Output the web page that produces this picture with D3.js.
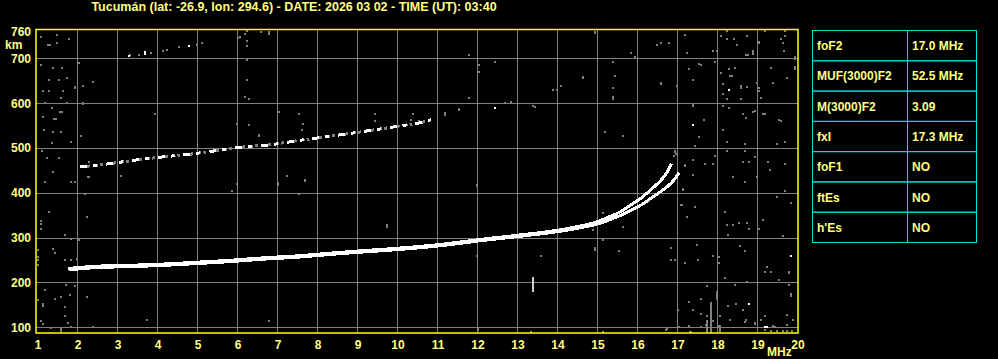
<!DOCTYPE html>
<html>
<head>
<meta charset="utf-8">
<script src="https://cdn.jsdelivr.net/npm/d3@7/dist/d3.min.js"></script>
<style>
  body { margin: 0; background: #000; }
  svg { display: block; }
  text { font-family: "Liberation Sans", Arial, sans-serif; font-weight: bold; fill: #ffff80; }
</style>
</head>
<body>
<svg id="ionogram" width="998" height="359"></svg>
<script>
'use strict';

var titleText = 'Tucumán (lat: -26.9, lon: 294.6) - DATE: 2026 03 02 - TIME (UT): 03:40';
var freqTicks = [1, 2, 3, 4, 5, 6, 7, 8, 9, 10, 11, 12, 13, 14, 15, 16, 17, 18, 19, 20];
var heightTicks = [100, 200, 300, 400, 500, 600, 700, 760];
var gridFreqs = [2, 3, 4, 5, 6, 7, 8, 9, 10, 11, 12, 13, 14, 15, 16, 17, 18, 19];
var gridHeights = [100, 200, 300, 400, 500, 600, 700];

var tableLabels = ['foF2', 'MUF(3000)F2', 'M(3000)F2', 'fxI', 'foF1', 'ftEs', "h'Es"];
var tableValues = ['17.0 MHz', '52.5 MHz', '3.09', '17.3 MHz', 'NO', 'NO', 'NO'];

// [MHz, km]
var oTrace = [[1.78, 231], [2.5, 236], [3.3, 238], [4.2, 241], [5.0, 245], [5.8, 249], [6.7, 255],
  [7.5, 259], [8.3, 265], [9.2, 271], [10.0, 276], [10.8, 282], [11.5, 289], [12.1, 296], [12.7, 302],
  [13.3, 308], [14.0, 316], [14.6, 326], [15.0, 335], [15.3, 346], [15.6, 358], [15.85, 373],
  [16.1, 388], [16.35, 407], [16.6, 428], [16.75, 445], [16.86, 465]];
var xTrace = [[1.8, 228], [2.5, 233], [3.3, 235], [4.2, 238], [5.0, 242], [5.8, 246], [6.7, 252],
  [7.5, 256], [8.3, 262], [9.2, 268], [10.0, 273], [10.8, 279], [11.5, 286], [12.1, 293], [12.7, 299],
  [13.3, 305], [14.0, 313], [14.6, 322], [15.0, 330], [15.3, 339], [15.6, 350], [15.9, 363],
  [16.15, 375], [16.35, 388], [16.55, 400], [16.75, 413], [16.95, 431], [17.05, 445]];
var secondHop = [[2.08, 458], [2.58, 462], [3.4, 472], [4.16, 480], [4.74, 485], [5.49, 494],
  [6.16, 502], [6.83, 507], [7.5, 516], [8.0, 522], [8.8, 532], [9.64, 543], [10.14, 550],
  [10.48, 554], [10.85, 563]];

var whiteDots = [[3.31, 704], [3.69, 710], [3.69, 714], [4.81, 728], [18.29, 630], [17.39, 550],
  [19.85, 258], [18.8, 152], [19.24, 100], [19.2, 100], [12.45, 589]];
var greyDots = [[3.33, 707], [3.54, 708], [3.85, 712], [4.14, 716], [4.24, 718], [4.54, 724],
  [5.0, 730], [5.13, 733],
  [1.09, 748], [1.49, 752], [1.27, 730], [1.33, 730], [1.49, 735], [1.8, 743], [1.09, 685], [1.41, 678],
  [1.62, 679], [1.31, 652], [1.56, 652], [1.74, 657], [2.05, 689], [1.95, 634], [2.14, 639], [2.39, 648],
  [1.14, 626], [1.3, 626], [1.64, 626], [1.6, 612], [1.2, 601], [1.76, 601], [2.14, 600], [1.38, 590],
  [1.57, 581], [1.62, 581], [1.14, 568], [1.42, 564], [1.48, 564], [1.18, 540], [1.41, 536], [1.6, 536],
  [2.09, 527], [1.37, 512], [1.84, 513], [1.13, 492], [1.24, 477], [1.55, 477], [1.39, 447], [2.09, 458],
  [2.3, 468], [1.2, 423], [1.84, 423], [1.95, 423], [2.28, 434], [2.2, 397], [1.3, 356], [2.24, 345],
  [1.09, 336], [1.09, 330], [1.09, 319], [1.7, 306], [1.84, 297], [2.05, 294], [1.03, 272], [1.39, 275],
  [1.45, 266], [1.03, 256], [1.03, 250], [1.7, 249], [1.84, 249], [1.99, 252], [1.03, 239], [1.2, 182],
  [1.73, 194], [1.95, 191], [1.45, 163], [1.6, 168], [1.83, 172], [1.03, 160], [1.14, 152], [1.14, 148],
  [1.7, 145], [1.7, 126], [1.09, 113], [1.14, 107], [1.35, 99], [1.6, 92], [1.6, 96], [1.78, 109],
  [1.84, 100], [2.24, 168], [2.41, 100],
  [6.03, 745], [6.08, 748], [6.2, 754], [6.25, 760], [6.25, 739], [6.25, 727], [6.6, 758], [6.79, 758],
  [6.79, 755], [6.25, 695], [6.25, 652], [6.2, 613], [6.3, 608], [7.04, 581], [7.56, 576], [7.64, 554],
  [7.62, 541], [6.31, 550], [5.99, 554], [6.54, 529], [6.54, 526], [9.46, 576], [9.46, 561], [10.39, 576],
  [3.96, 576], [2.1, 527], [2.39, 648], [2.14, 639], [2.15, 598], [1.96, 635], [2.04, 689],
  [14.95, 759], [14.95, 756], [11.79, 708], [12.04, 684], [12.04, 670], [12.45, 692], [11.79, 612],
  [11.54, 587], [11.54, 584], [12.85, 603], [12.7, 600], [13.89, 629], [13.99, 629], [14.1, 639],
  [14.64, 659], [14.64, 656], [15.39, 692], [15.45, 661], [15.39, 634], [15.39, 613], [15.39, 610],
  [15.85, 712], [15.95, 702], [16.49, 730], [16.6, 734], [16.81, 734], [16.6, 645], [16.6, 642],
  [16.99, 639], [17.2, 752], [17.24, 712], [17.31, 675], [17.54, 687], [17.6, 685], [17.39, 652],
  [17.89, 717], [17.99, 717], [17.95, 692], [18.1, 749], [18.25, 761], [18.25, 743], [18.43, 743],
  [18.5, 730], [18.75, 749], [18.89, 717], [18.89, 713], [18.89, 709], [18.73, 708], [18.78, 708],
  [19.04, 737], [19.04, 734], [19.21, 760], [19.6, 743], [19.64, 734], [19.68, 717], [19.69, 750],
  [19.69, 760], [19.96, 702], [19.96, 698], [19.96, 680], [19.96, 676], [18.09, 667], [18.29, 675],
  [18.33, 661], [18.38, 661], [18.45, 678], [18.14, 643], [18.14, 620], [18.25, 608], [18.6, 638],
  [18.6, 634], [18.75, 636], [18.6, 608], [18.99, 644], [19.04, 634], [19.04, 626], [19.1, 612],
  [19.35, 678], [19.39, 644], [19.74, 656], [18.14, 594], [18.29, 589], [18.64, 576], [18.73, 567],
  [18.89, 580], [18.94, 582], [19.14, 576], [19.2, 576], [19.56, 563], [19.6, 561], [17.39, 596],
  [17.39, 593], [17.68, 563], [18.14, 541], [17.54, 524], [15.21, 536], [15.64, 527], [13.4, 594],
  [13.44, 591], [11.2, 573], [11.2, 577], [10.55, 560], [10.35, 563],
  [16.95, 490], [16.93, 482], [17.45, 505], [17.95, 483], [18.24, 514], [18.7, 509], [19.49, 509],
  [19.7, 514], [17.2, 461], [17.39, 473], [17.7, 464], [17.89, 464], [18.24, 492], [18.7, 492],
  [18.95, 479], [18.66, 469], [18.79, 469], [19.28, 469], [19.7, 464], [17.39, 440], [17.14, 409],
  [17.14, 405], [18.41, 436], [18.7, 423], [18.99, 436], [19.33, 451], [19.7, 403], [19.49, 391],
  [19.85, 378], [17.09, 373], [17.45, 369], [17.24, 345], [18.2, 356], [18.26, 328], [18.39, 328],
  [18.55, 333], [18.74, 333], [18.79, 319], [18.28, 306], [19.04, 319], [19.16, 338], [19.64, 304],
  [16.84, 276], [17.49, 284], [16.95, 249], [17.2, 244], [17.53, 249], [17.89, 258], [18.05, 256],
  [18.05, 244], [18.58, 280], [18.7, 271], [19.24, 235], [19.35, 222], [19.2, 222], [19.8, 224],
  [19.8, 220], [18.2, 209], [18.45, 194], [18.74, 200], [19.56, 206], [19.8, 194], [19.85, 174],
  [19.85, 170], [17.74, 191], [17.6, 163], [17.3, 156], [17.03, 139], [17.4, 139], [17.59, 130],
  [17.74, 126], [17.89, 113], [18.08, 124], [18.28, 148], [18.47, 152], [18.66, 139], [18.72, 116],
  [18.95, 109], [19.09, 116], [19.2, 125], [19.45, 101], [19.36, 92], [19.5, 92], [19.64, 92],
  [19.75, 92], [19.88, 92], [19.91, 116], [19.74, 127], [17.33, 90], [16.73, 94],
  [11.99, 417], [11.99, 414], [15.14, 354], [14.91, 317], [15.14, 295], [15.64, 323], [14.95, 276],
  [14.95, 272], [15.55, 271], [13.59, 258], [11.99, 258], [16.84, 249], [17.2, 460], [17.12, 373],
  [16.95, 492], [16.98, 486],
  [7.24, 438], [7.03, 421], [7.03, 418], [5.99, 419], [5.88, 404], [7.55, 397], [7.7, 429], [7.7, 427],
  [3.09, 438], [2.3, 434], [2.2, 397], [2.24, 345], [9.74, 327], [9.74, 323],
  [3.74, 116], [6.79, 113], [12.03, 96], [12.03, 93], [13.35, 90], [15.14, 90], [16.74, 96],
  [17.05, 100], [17.3, 102], [17.34, 90], [17.6, 101], [17.73, 104], [18.03, 102], [18.33, 116],
  [18.7, 111], [18.95, 108], [19.41, 102], [19.2, 94], [19.75, 104]];
// [MHz, km from, km to]
var spikes = [[13.4, 178, 212]];
var greyBars = [[17.84, 88, 157], [17.76, 88, 104], [17.99, 160, 180], [17.74, 88, 117], [18.08, 88, 104]];

var svg = d3.select('#ionogram');

var x = d3.scaleLinear().domain([1, 20]).range([37, 797]);
var y = d3.scaleLinear().domain([87, 763]).range([333, 30]);

var frameLeft = 36, frameRight = 798, frameTop = 29.5, frameBottom = 333;

svg.append('rect')
  .attr('width', 998)
  .attr('height', 359)
  .attr('fill', '#000');

svg.append('text')
  .attr('x', 294)
  .attr('y', 11)
  .attr('text-anchor', 'middle')
  .style('font-size', '12.5px')
  .text(titleText);

// grid
var grid = svg.append('g')
  .attr('stroke', '#808080')
  .attr('stroke-width', 1)
  .attr('shape-rendering', 'crispEdges');

grid.selectAll('line.v')
  .data(gridFreqs)
  .enter()
  .append('line')
  .attr('class', 'v')
  .attr('x1', function(d) { return Math.round(x(d)) + 0.5; })
  .attr('x2', function(d) { return Math.round(x(d)) + 0.5; })
  .attr('y1', frameTop)
  .attr('y2', frameBottom);

grid.selectAll('line.h')
  .data(gridHeights)
  .enter()
  .append('line')
  .attr('class', 'h')
  .attr('x1', frameLeft)
  .attr('x2', frameRight)
  .attr('y1', function(d) { return Math.round(y(d)) + 0.5; })
  .attr('y2', function(d) { return Math.round(y(d)) + 0.5; });

// noise
function drawDots(data, colour) {
  svg.append('g')
    .attr('fill', colour)
    .attr('shape-rendering', 'crispEdges')
    .selectAll('rect')
    .data(data)
    .enter()
    .append('rect')
    .attr('x', function(d) { return Math.round(x(d[0])) - 1; })
    .attr('y', function(d) { return Math.round(y(d[1])) - 1; })
    .attr('width', 2)
    .attr('height', 2);
}
drawDots(greyDots, '#808080');

function drawBars(data, colour) {
  svg.append('g')
    .attr('fill', colour)
    .attr('shape-rendering', 'crispEdges')
    .selectAll('rect')
    .data(data)
    .enter()
    .append('rect')
    .attr('x', function(d) { return Math.round(x(d[0])) - 1; })
    .attr('y', function(d) { return Math.round(y(d[2])); })
    .attr('width', 2)
    .attr('height', function(d) { return Math.round(y(d[1]) - y(d[2])); });
}
drawBars(greyBars, '#808080');
drawBars(spikes, '#d0d0d0');

// traces
var line = d3.line()
  .x(function(d) { return x(d[0]); })
  .y(function(d) { return y(d[1]); })
  .curve(d3.curveCatmullRom);

svg.append('path')
  .datum(secondHop)
  .attr('d', line)
  .attr('fill', 'none')
  .attr('stroke', '#808080')
  .attr('stroke-width', 3)
  .attr('shape-rendering', 'crispEdges')
  .attr('stroke-dasharray', '5 2 3 3');

svg.append('path')
  .datum(secondHop)
  .attr('d', line)
  .attr('fill', 'none')
  .attr('stroke', '#fff')
  .attr('stroke-width', 3)
  .attr('shape-rendering', 'crispEdges')
  .attr('stroke-dasharray', '7 6 4 9');

[xTrace, oTrace].forEach(function(trace) {
  svg.append('path')
    .datum(trace)
    .attr('d', line)
    .attr('fill', 'none')
    .attr('stroke', '#fff')
    .attr('stroke-width', 3)
    .attr('shape-rendering', 'crispEdges');
});

drawDots(whiteDots, '#fff');

// frame
svg.append('rect')
  .attr('x', frameLeft)
  .attr('y', frameTop)
  .attr('width', frameRight - frameLeft)
  .attr('height', frameBottom - frameTop)
  .attr('fill', 'none')
  .attr('stroke', '#ffff00')
  .attr('stroke-width', 1.5);

// axis labels
svg.append('g')
  .selectAll('text')
  .data(freqTicks)
  .enter()
  .append('text')
  .attr('x', function(d) { return x(d) + 1; })
  .attr('y', 349)
  .attr('text-anchor', 'middle')
  .style('font-size', '12px')
  .text(function(d) { return d; });

svg.append('text')
  .attr('x', 767)
  .attr('y', 356)
  .style('font-size', '12px')
  .text('MHz');

svg.append('g')
  .selectAll('text')
  .data(heightTicks)
  .enter()
  .append('text')
  .attr('x', 31)
  .attr('y', function(d) { return y(d) + 4.5; })
  .attr('text-anchor', 'end')
  .style('font-size', '12px')
  .text(function(d) { return d; });

svg.append('text')
  .attr('x', 5)
  .attr('y', 49)
  .style('font-size', '12px')
  .text('km');

// parameter table
var rows = d3.scaleBand().domain(d3.range(tableLabels.length)).range([30.5, 242.5]);
var table = svg.append('g');

table.selectAll('rect')
  .data(tableLabels)
  .enter()
  .append('rect')
  .attr('x', 812.5)
  .attr('y', function(d, i) { return rows(i); })
  .attr('width', 164)
  .attr('height', rows.bandwidth())
  .attr('fill', 'none')
  .attr('stroke', '#00e0e0')
  .attr('stroke-width', 1);

table.append('line')
  .attr('x1', 907.5)
  .attr('x2', 907.5)
  .attr('y1', 30.5)
  .attr('y2', 242.5)
  .attr('stroke', '#00e0e0');

table.selectAll('text.label')
  .data(tableLabels)
  .enter()
  .append('text')
  .attr('class', 'label')
  .attr('x', 817)
  .attr('y', function(d, i) { return rows(i) + rows.bandwidth() / 2 + 4.5; })
  .style('font-size', '12px')
  .text(function(d) { return d; });

table.selectAll('text.value')
  .data(tableValues)
  .enter()
  .append('text')
  .attr('class', 'value')
  .attr('x', 912)
  .attr('y', function(d, i) { return rows(i) + rows.bandwidth() / 2 + 4.5; })
  .style('font-size', '12px')
  .text(function(d) { return d; });
</script>
</body>
</html>
